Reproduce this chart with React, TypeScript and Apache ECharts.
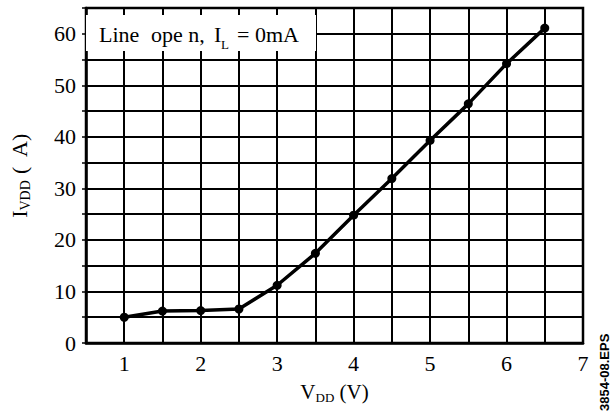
import React, { useEffect, useRef } from "react";
import * as echarts from "echarts";

const vdd = [1, 1.5, 2, 2.5, 3, 3.5, 4, 4.5, 5, 5.5, 6, 6.5];
const ivdd = [5.0, 6.2, 6.3, 6.6, 11.2, 17.4, 24.8, 31.9, 39.3, 46.4, 54.2, 61.1];
const xTickLabels = ["1", "2", "3", "4", "5", "6", "7"];
const yTickLabels = ["0", "10", "20", "30", "40", "50", "60"];

const SERIF = "'Liberation Serif', 'Times New Roman', serif";

export default function App() {
  const ref = useRef<HTMLDivElement>(null);
  useEffect(() => {
    const chart = echarts.init(ref.current!, undefined, { renderer: "svg" });
    const points = vdd.map((x, i) => [x, ivdd[i]]);
    const legendText = (text: string, x: number, y: number, size: number) => ({
      type: "text",
      x,
      y,
      z: 11,
      style: {
        text,
        fill: "#000",
        font: `${size}px ${SERIF}`,
        align: "left",
        verticalAlign: "middle",
      },
    });
    chart.setOption({
      animation: false,
      backgroundColor: "#fff",
      grid: {
        left: 83,
        right: 29,
        top: 8,
        bottom: 69,
        show: true,
        borderColor: "#000",
        borderWidth: 2.5,
        backgroundColor: "transparent",
      },
      xAxis: {
        type: "value",
        min: 0.5,
        max: 7,
        interval: 0.5,
        axisLine: { show: true, lineStyle: { color: "#000", width: 2.5 } },
        axisTick: { show: false },
        splitLine: { show: true, lineStyle: { color: "#000", width: 2 } },
        axisLabel: {
          color: "#000",
          fontFamily: SERIF,
          fontSize: 22,
          margin: 9,
          formatter: (v: number) => {
            const s = String(Math.round(v));
            return Math.abs(v - Math.round(v)) < 1e-6 && xTickLabels.includes(s) ? s : "";
          },
        },
        name: "V{sub|DD} (V)",
        nameLocation: "middle",
        nameGap: 36,
        nameTextStyle: {
          color: "#000",
          fontFamily: SERIF,
          fontSize: 21,
          rich: {
            sub: { fontSize: 13, fontFamily: SERIF, padding: [12, 0, 0, 0], color: "#000" },
          },
        },
      },
      yAxis: {
        type: "value",
        min: 0,
        max: 65,
        interval: 5,
        axisLine: { show: true, lineStyle: { color: "#000", width: 2.5 } },
        axisTick: { show: true, length: 4, lineStyle: { color: "#000", width: 1.5 } },
        splitLine: { show: true, lineStyle: { color: "#000", width: 2 } },
        axisLabel: {
          color: "#000",
          fontFamily: SERIF,
          fontSize: 22,
          margin: 10,
          formatter: (v: number) => {
            const s = String(Math.round(v));
            return yTickLabels.includes(s) && Math.round(v) % 10 === 0 ? s : "";
          },
        },
        name: "I{sub|VDD} (  A)",
        nameLocation: "middle",
        nameGap: 54,
        nameRotate: 90,
        nameTextStyle: {
          color: "#000",
          fontFamily: SERIF,
          fontSize: 22,
          rich: {
            sub: { fontSize: 14, fontFamily: SERIF, padding: [12, 0, 0, 0], color: "#000" },
          },
        },
      },
      series: [
        {
          type: "line",
          data: points,
          symbol: "circle",
          symbolSize: 9,
          itemStyle: { color: "#000" },
          lineStyle: { color: "#000", width: 3.5 },
          z: 5,
        },
      ],
      graphic: [
        {
          type: "rect",
          shape: { x: 86, y: 15, width: 230, height: 36 },
          style: { fill: "#fff" },
          z: 10,
        },
        legendText("Line", 99, 34, 22),
        legendText("ope n,", 151, 34, 22),
        legendText("I", 214, 34, 22),
        legendText("L", 221, 44, 13),
        legendText("= 0mA", 237, 34, 22),
        {
          type: "text",
          x: 598,
          y: 411,
          rotation: Math.PI / 2,
          z: 11,
          style: {
            text: "3854-08.EPS",
            fill: "#000",
            font: "bold 13px 'Liberation Sans', Arial, sans-serif",
            align: "left",
            verticalAlign: "top",
          },
        },
      ],
    });
    return () => chart.dispose();
  }, []);
  return (
    <div
      ref={ref}
      style={{ position: "fixed", left: 0, top: 0, width: 612, height: 412 }}
    />
  );
}
